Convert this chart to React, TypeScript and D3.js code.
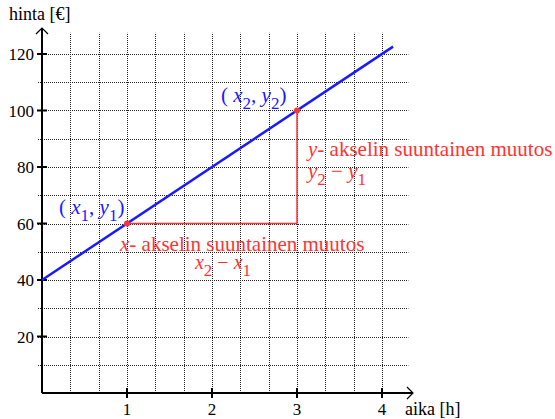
import React from 'react';
import * as d3 from 'd3';

// values
const xTicks = [1, 2, 3, 4];
const yTicks = [20, 40, 60, 80, 100, 120];
const xGrid = [1 / 3, 2 / 3, 1, 4 / 3, 5 / 3, 2, 7 / 3, 8 / 3, 3, 10 / 3, 11 / 3, 4];
const yGrid = [10, 20, 30, 40, 50, 60, 70, 80, 90, 100, 110, 120];
const lineHours = [0, 4.13];
const linePrices = [40, 122.6];
const pointHours = [1, 3];
const pointPrices = [60, 100];

const serif = "'Liberation Serif', 'DejaVu Serif', serif";
const red = '#ff3333';
const blue = '#1a1aff';

const App = () => {
  const x = d3.scaleLinear().domain([0, 4]).range([42, 382]);
  const y = d3.scaleLinear().domain([0, 120]).range([393, 54]);

  const gridRight = x(4.31);
  const gridTop = y(127.5);

  const line = d3.line<number>()
    .x((d, i) => x(lineHours[i]))
    .y(d => y(d));

  const x0 = x(0), y0 = y(0);

  const it = (t: string) => <tspan style={{ fontStyle: 'italic' }}>{t}</tspan>;
  // subscript: drop, then come back up
  const sub = (t: string) => (
    <tspan fontSize="17" dy="7">{t}</tspan>
  );
  const back = (t: string) => <tspan dy="-7">{t}</tspan>;

  return (
    <svg width={555} height={419} style={{ position: 'absolute', left: 0, top: 0, background: '#fff', fontFamily: serif }}>
      <rect width={555} height={419} fill="#fff" />
      {/* grid */}
      <g stroke="#222" strokeWidth={1} strokeDasharray="1,1">
        {xGrid.map(v => (
          <line key={'gx' + v} x1={Math.round(x(v)) + 0.5} x2={Math.round(x(v)) + 0.5} y1={y0} y2={gridTop} />
        ))}
        {yGrid.map(v => (
          <line key={'gy' + v} x1={38} x2={gridRight} y1={Math.round(y(v)) + 0.5} y2={Math.round(y(v)) + 0.5} />
        ))}
      </g>

      {/* axes */}
      <g stroke="#000" strokeWidth={2} fill="none">
        <line x1={x0} x2={413} y1={y0} y2={y0} />
        <line x1={x0} x2={x0} y1={y0} y2={28} />
        <polyline points={`${407},${y0 - 6} ${413},${y0} ${407},${y0 + 6}`} strokeWidth={1.2} />
        <polyline points={`${x0 - 6},${34} ${x0},${28} ${x0 + 6},${34}`} strokeWidth={1.2} />
        {xTicks.map(v => (
          <line key={'tx' + v} x1={x(v)} x2={x(v)} y1={y0 - 5} y2={y0 + 5} />
        ))}
        {yTicks.map(v => (
          <line key={'ty' + v} x1={x0 - 5} x2={x0 + 5} y1={y(v)} y2={y(v)} />
        ))}
      </g>

      <g fontSize={17} fill="#000">
        {xTicks.map(v => (
          <text key={'lx' + v} x={x(v)} y={415} textAnchor="middle">{v}</text>
        ))}
        {yTicks.map(v => (
          <text key={'ly' + v} x={34} y={y(v) + 6} textAnchor="end">{v}</text>
        ))}
        <text x={9} y={20} fontSize={18}>hinta [€]</text>
        <text x={405} y={415} fontSize={18}>aika [h]</text>
      </g>

      {/* change triangle */}
      <g stroke={red} strokeWidth={1.5}>
        <line x1={x(pointHours[0])} x2={x(pointHours[1])} y1={y(pointPrices[0])} y2={y(pointPrices[0])} />
        <line x1={x(pointHours[1])} x2={x(pointHours[1])} y1={y(pointPrices[0])} y2={y(pointPrices[1])} />
      </g>

      <path d={line(linePrices) || ''} stroke={blue} strokeWidth={2.5} fill="none" />

      {pointHours.map((h, i) => (
        <circle key={'p' + i} cx={x(h)} cy={y(pointPrices[i])} r={3} fill={red} />
      ))}

      <g fontSize={21}>
        <text x={59} y={214} fill={blue}>
          ( {it('x')}{sub('1')}{back(', ')}{it('y')}{sub('1')}{back(')')}
        </text>
        <text x={221} y={102} fill={blue}>
          ( {it('x')}{sub('2')}{back(', ')}{it('y')}{sub('2')}{back(')')}
        </text>
        <text x={308} y={156} fill={red}>
          {it('y')}- akselin suuntainen muutos
        </text>
        <text x={308} y={178} fill={red}>
          {it('y')}{sub('2')}{back(' − ')}{it('y')}{sub('1')}
        </text>
        <text x={120} y={251} fill={red}>
          {it('x')}- akselin suuntainen muutos
        </text>
        <text x={223} y={269} fill={red} textAnchor="middle" fontSize={20}>
          {it('x')}{sub('2')}{back(' − ')}{it('x')}{sub('1')}
        </text>
      </g>
    </svg>
  );
};

export default App;
